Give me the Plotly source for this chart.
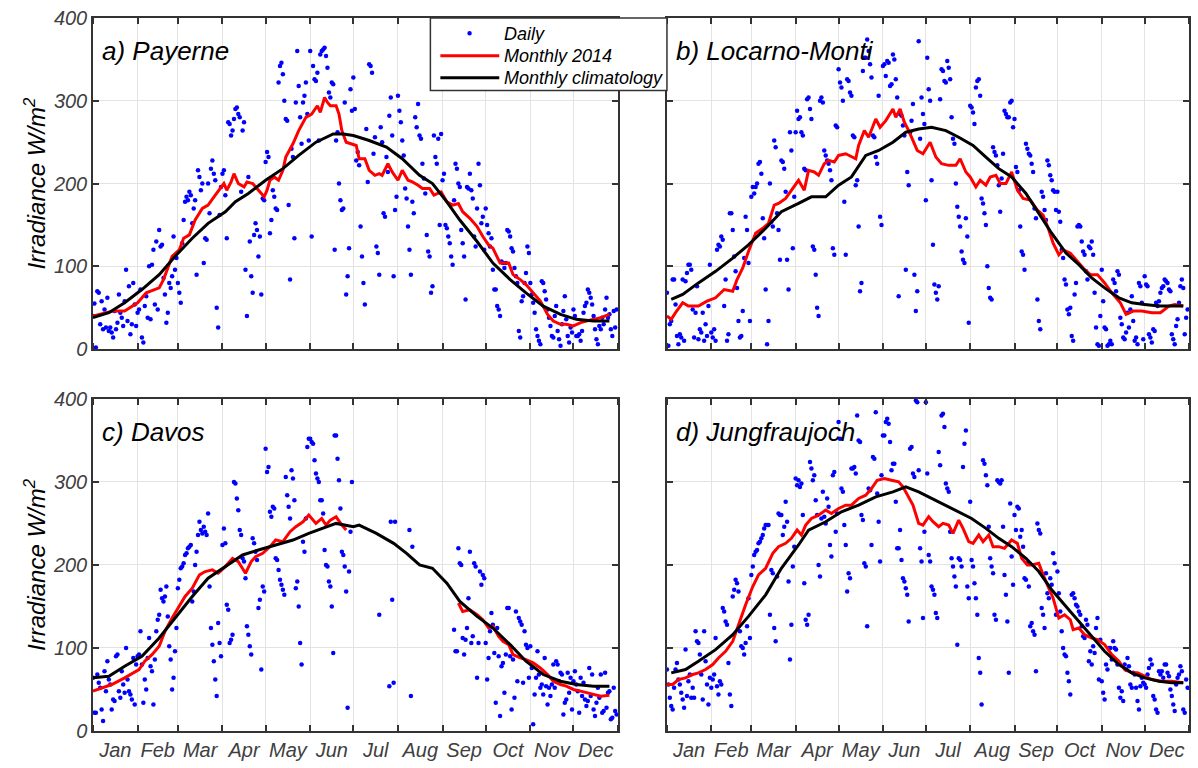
import pandas as pd
import plotly.graph_objects as go

# ---------------------------------------------------------------------------
# Daily mean global irradiance 2014 (W/m2), one list per month
# ---------------------------------------------------------------------------
payerne_daily = [
    [40, 55, 2, 70, 68, 30, 58, 24, 48, 26, 62, 22, 26, 20, 14, 46, 24, 32, 66, 44, 38, 28, 58, 96, 34, 76, 18, 30, 80, 54, 28],
    [44, 48, 72, 14, 8, 52, 64, 38, 100, 36, 102, 120, 54, 130, 48, 144, 124, 126, 86, 66, 32, 44, 80, 74, 88, 136, 96, 110],
    [80, 68, 56, 128, 156, 178, 184, 180, 190, 186, 152, 170, 180, 90, 216, 208, 192, 200, 104, 134, 132, 200, 164, 218, 228, 212, 204, 50, 26, 162, 196],
    [212, 216, 186, 134, 274, 272, 258, 264, 278, 290, 292, 284, 280, 190, 264, 274, 96, 40, 208, 130, 88, 68, 138, 152, 144, 112, 136, 66, 182, 180],
    [226, 238, 232, 140, 156, 192, 184, 170, 168, 322, 342, 346, 332, 300, 278, 276, 174, 84, 242, 232, 134, 298, 360, 318, 280, 248, 298, 306, 322, 284, 252],
    [360, 136, 342, 326, 324, 334, 252, 356, 360, 362, 364, 354, 340, 310, 304, 322, 320, 120, 252, 262, 200, 180, 168, 170, 298, 66, 88, 122, 314, 288],
    [328, 290, 228, 238, 222, 148, 112, 80, 54, 266, 202, 344, 342, 334, 236, 256, 124, 116, 90, 268, 250, 164, 160, 232, 214, 282, 304, 258, 88, 168, 184],
    [306, 288, 274, 252, 234, 194, 182, 148, 120, 90, 178, 164, 280, 268, 296, 258, 254, 224, 206, 188, 138, 118, 112, 68, 76, 258, 232, 224, 254, 150, 260],
    [204, 212, 150, 146, 136, 128, 112, 102, 180, 224, 218, 200, 196, 144, 128, 112, 60, 196, 194, 212, 192, 182, 136, 124, 170, 224, 198, 152, 160, 120],
    [170, 150, 140, 124, 134, 96, 72, 72, 52, 48, 40, 106, 104, 98, 104, 144, 142, 136, 122, 118, 98, 88, 80, 22, 14, 58, 64, 80, 92, 124, 116],
    [80, 66, 56, 44, 24, 16, 10, 6, 82, 80, 70, 60, 48, 38, 28, 16, 14, 40, 52, 22, 12, 4, 30, 46, 64, 36, 16, 8, 26, 20],
    [48, 40, 16, 16, 18, 10, 22, 44, 52, 56, 72, 68, 62, 54, 40, 24, 12, 6, 28, 24, 38, 30, 48, 62, 38, 42, 24, 16, 46, 26, 48],
]

locarno_daily = [
    [68, 4, 30, 34, 84, 84, 54, 16, 6, 18, 14, 84, 10, 82, 92, 102, 102, 96, 48, 14, 44, 76, 12, 24, 20, 44, 10, 30, 16, 52, 102],
    [20, 14, 24, 10, 120, 126, 124, 136, 132, 52, 84, 10, 18, 164, 164, 144, 112, 94, 74, 34, 14, 16, 46, 110, 160, 144, 104, 34],
    [184, 196, 188, 196, 200, 224, 226, 212, 158, 134, 72, 6, 34, 200, 154, 148, 252, 244, 164, 144, 108, 228, 226, 218, 190, 108, 72, 262, 240, 122, 184],
    [262, 288, 278, 280, 262, 258, 218, 216, 302, 304, 290, 278, 124, 120, 90, 50, 40, 300, 304, 298, 240, 234, 228, 224, 216, 204, 122, 114, 270, 268],
    [338, 322, 316, 300, 178, 114, 326, 324, 310, 306, 258, 256, 198, 204, 148, 70, 80, 336, 352, 352, 374, 360, 344, 328, 258, 256, 232, 224, 306, 160, 150],
    [342, 344, 330, 348, 346, 318, 320, 356, 350, 326, 304, 64, 284, 282, 270, 258, 96, 214, 198, 262, 276, 296, 90, 46, 70, 372, 254, 304, 284, 272],
    [180, 352, 314, 300, 204, 126, 78, 68, 60, 76, 302, 338, 336, 324, 322, 348, 340, 326, 280, 254, 248, 200, 172, 160, 148, 118, 108, 104, 158, 136, 32],
    [294, 292, 286, 272, 316, 324, 326, 306, 182, 176, 164, 150, 100, 74, 62, 60, 244, 238, 234, 222, 198, 166, 206, 236, 288, 284, 280, 280, 298, 300, 268],
    [278, 220, 214, 192, 148, 118, 114, 96, 248, 242, 236, 234, 224, 214, 170, 158, 60, 34, 24, 190, 184, 168, 156, 228, 222, 210, 204, 192, 190, 168],
    [190, 166, 154, 120, 110, 84, 78, 48, 42, 50, 16, 10, 66, 80, 148, 150, 148, 130, 118, 114, 94, 84, 124, 122, 130, 114, 68, 26, 6, 4, 40],
    [96, 58, 26, 24, 4, 6, 10, 6, 84, 80, 70, 94, 90, 38, 30, 14, 12, 20, 44, 26, 48, 64, 34, 10, 14, 6, 80, 76, 56, 12],
    [88, 78, 76, 18, 14, 8, 24, 22, 56, 52, 58, 68, 74, 76, 84, 82, 80, 72, 70, 18, 12, 6, 28, 36, 56, 76, 84, 74, 18, 38, 48],
]

davos_daily = [
    [64, 22, 22, 68, 58, 52, 26, 12, 72, 48, 84, 62, 56, 26, 38, 36, 90, 92, 48, 40, 72, 56, 46, 100, 62, 48, 44, 38, 88, 32, 80],
    [90, 92, 120, 80, 34, 62, 50, 88, 112, 78, 72, 32, 86, 120, 134, 140, 170, 160, 156, 162, 174, 138, 102, 86, 50, 64, 96, 124],
    [172, 182, 196, 198, 202, 212, 214, 220, 222, 224, 156, 168, 200, 216, 236, 252, 242, 238, 246, 240, 236, 262, 174, 124, 104, 84, 62, 42, 130, 106, 90],
    [224, 244, 226, 152, 146, 106, 110, 116, 300, 298, 280, 266, 242, 236, 208, 204, 184, 126, 116, 102, 92, 232, 226, 216, 206, 148, 158, 74, 174, 168],
    [340, 312, 318, 264, 258, 270, 268, 208, 206, 194, 182, 176, 170, 164, 306, 284, 270, 256, 314, 304, 278, 172, 180, 150, 106, 80, 228, 216, 256, 342, 352],
    [352, 348, 346, 326, 310, 304, 300, 278, 278, 262, 218, 200, 198, 180, 174, 150, 94, 356, 356, 328, 302, 268, 216, 212, 198, 168, 28, 192, 240, 300],
    [None, None, None, None, None, None, None, None, None, None, None, None, None, None, None, None, None, None, 140,
     None, None, None, None, None, None, 54, 252, 158, 58, 252, None],
    [None, None, None, None, None, None, None, None, 242, 42, 222, None, None, None, None, None, None, None, None, None,
     None, None, None, None, None, None, None, None, None, None, None],
    [None, None, None, None, None, None, None, None, 122, 96, 96, 220, 202, 200, 112, 92, 110, 124, 160, 216, 106, 114,
     202, 198, 64, 106, 192, 176, 188, 184],
    [106, 62, 88, 120, 142, 128, 94, 34, 124, 90, 18, 78, 82, 46, 92, 148, 148, 90, 26, 86, 40, 144, 60, 136, 132, 128, 58, 120, 104, 100, 64],
    [102, 76, 8, 44, 64, 96, 68, 52, 56, 44, 88, 54, 32, 52, 42, 56, 80, 52, 84, 80, 60, 70, 68, 20, 34, 38, 70, 46, 64, 26],
    [60, 72, 56, 48, 22, 64, 42, 58, 38, 30, 36, 76, 42, 68, 26, 18, 34, 52, 40, 68, 22, 24, 70, 28, 46, 48, 14, 16, 52, 24, 20],
]

jungfrau_daily = [
    [74, 56, 40, 30, 26, 52, 74, 82, 62, 56, 46, 38, 28, 98, 42, 60, 68, 40, 52, 40, 120, 108, 106, 92, 68, 38, 120, 84, 56, 32, 64],
    [52, 62, 68, 112, 54, 44, 60, 56, 148, 144, 132, 128, 82, 44, 30, 162, 170, 182, 178, 168, 120, 102, 100, 92, 106, 126, 160, 112],
    [188, 198, 212, 216, 218, 226, 228, 232, 236, 244, 248, 248, 248, 140, 194, 190, 124, 108, 186, 262, 260, 260, 236, 246, 276, 252, 180, 86, 128, 198, 222],
    [304, 296, 302, 294, 298, 260, 178, 134, 128, 140, 324, 316, 302, 308, 278, 260, 200, 186, 256, 288, 258, 250, 280, 270, 224, 210, 308, 312, 240, 262],
    [372, 352, 292, 288, 248, 224, 168, 190, 184, 316, 316, 318, 310, 380, 350, 348, 260, 254, 202, 198, 126, 292, 290, 224, 330, 328, 384, 286, 252, 204, 308],
    [356, 356, 372, 376, 370, 348, 314, 322, 322, 276, 220, 220, 242, 206, 184, 180, 172, 164, 132, 340, 342, 310, 306, 398, 396, 314, 220, 204, 136, 240],
    [396, 310, 212, 204, 174, 170, 164, 142, 136, 336, 320, 380, 382, 366, 298, 292, 288, 240, 208, 198, 186, 174, 104, 208, 206, 198, 318, 346, 362, 174, 160],
    [276, 206, 198, 178, 160, 140, 88, 70, 32, 326, 322, 308, 296, 246, 208, 198, 190, 140, 134, 302, 300, 298, 302, 246, 188, 164, 132, 70, 274, 210, 176],
    [260, 242, 270, 268, 234, 242, 222, 184, 182, 202, 174, 126, 130, 120, 116, 72, 250, 242, 238, 148, 140, 124, 190, 166, 160, 184, 176, 214, 202, 140],
    [192, 166, 144, 120, 100, 92, 90, 70, 60, 44, 164, 166, 160, 152, 150, 144, 140, 126, 114, 112, 134, 128, 84, 96, 80, 102, 94, 124, 136, 62, 110],
    [60, 46, 38, 80, 74, 100, 100, 86, 108, 100, 98, 80, 52, 40, 48, 36, 80, 74, 88, 78, 56, 52, 70, 68, 52, 36, 26, 54, 64, 58],
    [56, 52, 68, 76, 86, 80, 42, 38, 26, 22, 72, 68, 72, 64, 80, 80, 70, 66, 50, 42, 32, 24, 56, 64, 68, 78, 72, 26, 22, 62, 52],
]

# ---------------------------------------------------------------------------
# 30-day running mean of 2014 (day of year, W/m2)
# ---------------------------------------------------------------------------
payerne_2014_day = [1, 15, 23, 32, 38, 47, 50, 56, 61, 64, 68, 72, 77, 81, 86, 90, 92, 94, 97, 99, 102, 106, 108, 112, 116,
                    120, 122, 124, 127, 130, 133, 135, 140, 144, 149, 153, 157, 159, 162, 164, 166, 170, 172, 174, 177,
                    180, 184, 186, 190, 193, 197, 200, 202, 206, 209, 213, 216, 220, 223, 227, 230, 235, 238, 243, 247,
                    251, 255, 258, 263, 268, 272, 276, 279, 284, 290, 293, 298, 302, 307, 312, 317, 321, 326, 330, 335,
                    340, 344, 349, 354, 360]
payerne_2014 = [40, 46, 46, 56, 68, 74, 84, 112, 120, 134, 138, 156, 170, 174, 186, 196, 200, 192, 202, 212, 200, 196, 202,
                200, 192, 184, 192, 204, 208, 204, 216, 232, 248, 264, 280, 284, 294, 286, 304, 298, 294, 294, 284, 264,
                250, 248, 246, 230, 230, 216, 210, 212, 210, 224, 214, 204, 216, 204, 202, 198, 194, 194, 186, 190, 178,
                174, 176, 166, 158, 148, 136, 126, 122, 104, 104, 90, 84, 78, 68, 58, 42, 34, 30, 30, 28, 32, 34, 36, 38, 42]

locarno_2014_day = [1, 4, 7, 12, 16, 23, 29, 35, 41, 47, 50, 54, 58, 63, 68, 72, 76, 79, 84, 88, 93, 97, 100, 104, 107,
                    111, 114, 118, 121, 126, 130, 133, 135, 139, 142, 147, 150, 154, 159, 161, 164, 167, 170, 172, 176,
                    180, 185, 189, 193, 198, 203, 206, 210, 213, 217, 220, 224, 227, 231, 234, 238, 242, 246, 250, 255,
                    260, 264, 268, 271, 275, 278, 283, 288, 292, 297, 302, 307, 312, 318, 322, 327, 333, 340, 346, 352,
                    356, 362]
locarno_2014 = [40, 36, 44, 56, 52, 52, 58, 62, 72, 70, 84, 98, 118, 140, 146, 152, 174, 176, 182, 192, 204, 192, 216, 214,
                210, 224, 228, 226, 234, 236, 232, 230, 246, 264, 256, 278, 268, 276, 290, 280, 290, 274, 264, 256, 240,
                236, 250, 232, 224, 222, 222, 230, 214, 208, 196, 204, 198, 208, 210, 200, 200, 214, 192, 182, 180, 168,
                162, 144, 128, 114, 120, 116, 106, 98, 90, 90, 80, 68, 56, 42, 46, 46, 44, 44, 52, 54, 52]

# Davos has no 2014 record between late June and early September
davos_2014_day = [1, 7, 14, 23, 33, 37, 42, 47, 51, 56, 61, 65, 70, 75, 79, 84, 88, 93, 98, 102, 107, 111, 114, 119, 124,
                  128, 133, 138, 142, 147, 151, 156, 160, 163, 166, 170, 174, 177, 216, 255, 258, 263, 268, 272, 276, 279,
                  283, 286, 290, 293, 298, 302, 307, 312, 317, 321, 326, 330, 335, 340, 345, 349, 354, 360]
davos_2014 = [48, 52, 56, 64, 74, 84, 92, 102, 120, 136, 150, 162, 172, 188, 192, 194, 190, 198, 208, 204, 190, 204, 210,
              214, 222, 230, 228, 240, 246, 252, 260, 250, 256, 248, 254, 258, 248, 242, None, 154, 144, 146, 140, 134,
              124, 126, 114, 108, 104, 92, 88, 86, 82, 76, 68, 60, 56, 54, 50, 48, 46, 44, 42, 43]

jungfrau_2014_day = [1, 5, 9, 14, 19, 23, 28, 33, 37, 42, 47, 51, 56, 61, 65, 70, 75, 79, 84, 88, 92, 95, 98, 102, 107,
                     112, 116, 121, 126, 130, 135, 140, 144, 148, 153, 158, 163, 166, 170, 173, 177, 180, 184, 187, 191,
                     194, 198, 201, 205, 208, 212, 215, 219, 222, 226, 229, 233, 237, 242, 246, 249, 253, 256, 261, 264,
                     268, 271, 275, 279, 283, 285, 289, 293, 298, 302, 307, 312, 317, 321, 326, 330, 335, 340, 347, 354, 362]
jungfrau_2014 = [56, 56, 62, 64, 68, 70, 74, 80, 88, 96, 108, 128, 152, 174, 188, 196, 214, 222, 226, 232, 242, 236, 248,
                 256, 260, 266, 262, 268, 272, 272, 280, 284, 292, 302, 304, 302, 300, 294, 282, 272, 250, 248, 258, 252,
                 246, 250, 248, 238, 254, 244, 228, 226, 236, 228, 236, 222, 222, 220, 230, 226, 208, 200, 200, 202, 188,
                 172, 160, 136, 140, 134, 122, 124, 116, 112, 110, 104, 92, 84, 74, 70, 70, 66, 62, 60, 60, 58]

# ---------------------------------------------------------------------------
# Climatological running monthly mean (day of year, W/m2)
# ---------------------------------------------------------------------------
payerne_clim_day = [1, 12, 23, 35, 47, 58, 70, 81, 93, 100, 109, 121, 133, 144, 156, 168, 175, 182, 193, 205, 216, 228,
                    237, 247, 256, 268, 279, 291, 302, 314, 326, 337, 349, 360]
payerne_clim = [38, 44, 56, 72, 90, 112, 134, 152, 166, 178, 188, 204, 218, 234, 250, 260, 260, 258, 252, 244, 230, 210,
                200, 178, 156, 130, 104, 84, 68, 52, 42, 36, 34, 34]

locarno_clim_day = [4, 12, 23, 35, 47, 58, 70, 81, 93, 102, 112, 121, 130, 140, 149, 159, 168, 177, 186, 196, 205, 215,
                    224, 233, 242, 252, 261, 270, 280, 289, 298, 307, 317, 326, 335, 345, 354, 362]
locarno_clim = [60, 66, 80, 94, 110, 126, 146, 166, 176, 184, 184, 198, 208, 234, 240, 250, 262, 266, 268, 264, 256, 246,
                232, 218, 208, 188, 164, 140, 116, 102, 86, 74, 62, 56, 54, 52, 52, 52]

davos_clim_day = [1, 12, 23, 35, 47, 58, 70, 81, 93, 105, 116, 128, 140, 151, 163, 170, 182, 186, 198, 210, 219, 228, 237,
                  247, 256, 268, 279, 291, 302, 314, 326, 337, 349, 360]
davos_clim = [64, 66, 78, 90, 112, 136, 162, 184, 198, 212, 218, 224, 230, 238, 246, 250, 246, 248, 238, 226, 214, 200,
              196, 178, 156, 138, 124, 104, 84, 68, 60, 56, 54, 54]

jungfrau_clim_day = [4, 14, 23, 35, 47, 58, 70, 81, 93, 100, 112, 123, 135, 147, 159, 168, 177, 186, 196, 205, 214, 224,
                     233, 242, 252, 261, 270, 280, 289, 298, 307, 317, 326, 335, 345, 354, 362]
jungfrau_clim = [70, 74, 84, 98, 116, 138, 164, 196, 224, 242, 252, 264, 272, 282, 288, 294, 288, 280, 272, 264, 256, 244,
                 232, 222, 208, 192, 170, 150, 132, 114, 96, 80, 70, 64, 60, 58, 58]

panel_titles = ["a) Payerne", "b) Locarno-Monti", "c) Davos", "d) Jungfraujoch"]
series_names = ["Daily", "Monthly 2014", "Monthly climatology"]
y_title = "Irradiance W/m<sup>2</sup>"

stations = [
    (payerne_daily, payerne_2014_day, payerne_2014, payerne_clim_day, payerne_clim),
    (locarno_daily, locarno_2014_day, locarno_2014, locarno_clim_day, locarno_clim),
    (davos_daily, davos_2014_day, davos_2014, davos_clim_day, davos_clim),
    (jungfrau_daily, jungfrau_2014_day, jungfrau_2014, jungfrau_clim_day, jungfrau_clim),
]

YEAR_START = pd.Timestamp("2014-01-01")


def daily_points(months):
    xs, ys = [], []
    for m, vals in enumerate(months, start=1):
        start = pd.Timestamp(year=2014, month=m, day=1)
        assert len(vals) <= start.days_in_month
        for i, v in enumerate(vals):
            if v is None:
                continue
            xs.append(start + pd.Timedelta(days=i))
            ys.append(v)
    return xs, ys


def day_to_date(days):
    return [YEAR_START + pd.Timedelta(days=d - 1) for d in days]


FONT = "Liberation Sans, Arial, Helvetica, sans-serif"
AXIS_COLOR = "#333333"
GRID_COLOR = "#e3e3e3"
BLUE, RED, BLACK = "#0000ff", "#ff0000", "#000000"

# figure geometry (pixels)
W, H = 1198, 768
ML, MR, MT, MB = 93, 7, 15, 36
PW, PH = W - ML - MR, H - MT - MB


def px_x(px):
    return (px - ML) / PW


def px_y(py):
    return (H - MB - py) / PH


fig = go.Figure()

for k, (daily, d14, v14, dcl, vcl) in enumerate(stations):
    ax = "" if k == 0 else str(k + 1)
    dx, dy = daily_points(daily)
    fig.add_trace(go.Scatter(
        x=dx, y=dy, mode="markers", name=series_names[0], showlegend=False,
        marker=dict(color=BLUE, size=4.5),
        xaxis="x" + ax, yaxis="y" + ax,
    ))
    fig.add_trace(go.Scatter(
        x=day_to_date(d14), y=v14, mode="lines", name=series_names[1], showlegend=False,
        line=dict(color=RED, width=3), connectgaps=False,
        xaxis="x" + ax, yaxis="y" + ax,
    ))
    fig.add_trace(go.Scatter(
        x=day_to_date(dcl), y=vcl, mode="lines", name=series_names[2], showlegend=False,
        line=dict(color=BLACK, width=3),
        xaxis="x" + ax, yaxis="y" + ax,
    ))

x_dom = [[0.0, px_x(619)], [px_x(668), 1.0]]
y_dom = [[px_y(348), 1.0], [0.0, px_y(398)]]

tick_font = dict(family=FONT, size=20, color="#404040", style="italic")

layout = dict(
    width=W, height=H, autosize=False,
    margin=dict(l=ML, r=MR, t=MT, b=MB),
    paper_bgcolor="white", plot_bgcolor="white",
    font=dict(family=FONT, color="black"),
    showlegend=False,
)

for k in range(4):
    row, col = divmod(k, 2)
    ax = "" if k == 0 else str(k + 1)
    layout["xaxis" + ax] = dict(
        domain=x_dom[col], anchor="y" + ax, type="date",
        range=["2014-01-01", "2015-01-01"],
        tick0="2014-01-01", dtick="M1", tickformat="%b", ticklabelmode="period",
        ticks="inside", ticklen=6, tickwidth=1.5, tickcolor=AXIS_COLOR,
        showline=True, linecolor=AXIS_COLOR, linewidth=1.5, mirror="ticks",
        showgrid=True, gridcolor=GRID_COLOR, gridwidth=1, zeroline=False,
        showticklabels=(row == 1), tickfont=tick_font,
    )
    layout["yaxis" + ax] = dict(
        domain=y_dom[row], anchor="x" + ax, range=[0, 400],
        tick0=0, dtick=100,
        ticks="inside", ticklen=6, tickwidth=1.5, tickcolor=AXIS_COLOR,
        showline=True, linecolor=AXIS_COLOR, linewidth=1.5, mirror="ticks",
        showgrid=True, gridcolor=GRID_COLOR, gridwidth=1, zeroline=False,
        showticklabels=(col == 0), tickfont=tick_font,
    )
    if col == 0:
        layout["yaxis" + ax]["title"] = dict(
            text=y_title, standoff=0,
            font=dict(family=FONT, size=24, color="black", style="italic"),
        )

fig.update_layout(**layout)

for k, title in enumerate(panel_titles):
    ax = "" if k == 0 else str(k + 1)
    fig.add_annotation(
        text=title, xref="x" + ax + " domain", yref="y" + ax + " domain",
        x=0.013, y=0.90, xanchor="left", yanchor="middle", showarrow=False,
        font=dict(family=FONT, size=26, color="black", style="italic"),
    )

# legend box straddling the two upper panels
leg_font = dict(family=FONT, size=18, color="black", style="italic")
fig.add_shape(type="rect", xref="paper", yref="paper",
              x0=px_x(431), x1=px_x(668), y0=px_y(88), y1=px_y(15),
              fillcolor="white", line=dict(color=AXIS_COLOR, width=1.5), layer="above")
fig.add_shape(type="circle", xref="paper", yref="paper",
              x0=px_x(468), x1=px_x(472.5), y0=px_y(32.5), y1=px_y(28),
              fillcolor=BLUE, line=dict(color=BLUE, width=0), layer="above")
fig.add_shape(type="line", xref="paper", yref="paper",
              x0=px_x(441), x1=px_x(500), y0=px_y(53), y1=px_y(53),
              line=dict(color=RED, width=3), layer="above")
fig.add_shape(type="line", xref="paper", yref="paper",
              x0=px_x(441), x1=px_x(500), y0=px_y(75), y1=px_y(75),
              line=dict(color=BLACK, width=3), layer="above")
for name, py in zip(series_names, [31, 53, 75]):
    fig.add_annotation(text=name, xref="paper", yref="paper",
                       x=px_x(503), y=px_y(py), xanchor="left", yanchor="middle",
                       showarrow=False, font=leg_font)

fig.write_html("out.html")
